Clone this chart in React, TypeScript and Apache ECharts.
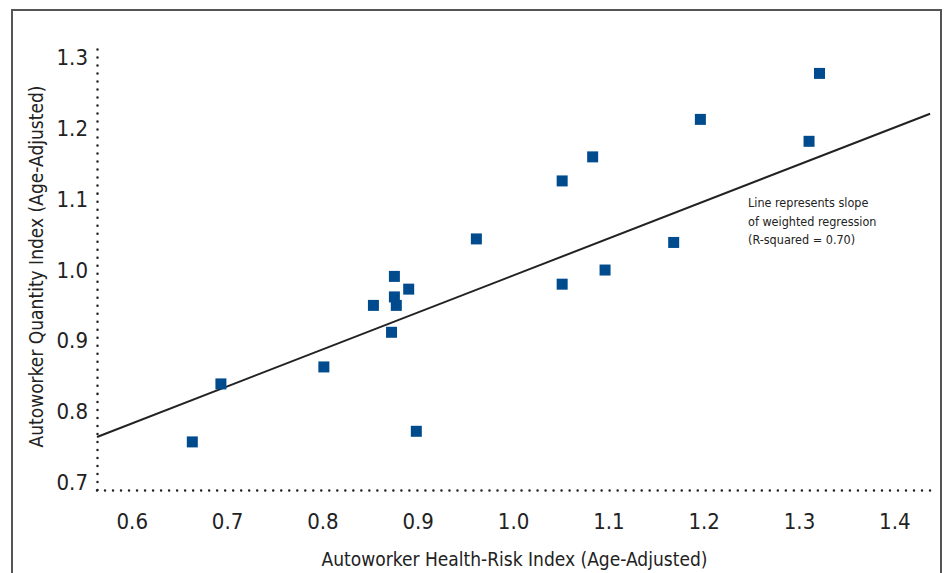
import React, { useEffect, useRef } from "react";
import * as echarts from "echarts";

const healthRisk = [0.663, 0.693, 0.801, 0.853, 0.872, 0.875, 0.875, 0.877, 0.890, 0.898, 0.961, 1.051, 1.051, 1.083, 1.096, 1.168, 1.196, 1.310, 1.321];
const quantity = [0.757, 0.839, 0.863, 0.950, 0.912, 0.962, 0.991, 0.950, 0.973, 0.772, 1.044, 1.126, 0.980, 1.160, 1.000, 1.039, 1.213, 1.182, 1.278];
const xTicks = [0.6, 0.7, 0.8, 0.9, 1.0, 1.1, 1.2, 1.3, 1.4];
const yTicks = [0.7, 0.8, 0.9, 1.0, 1.1, 1.2, 1.3];
const lineX = [0.563, 1.437];
const lineY = [0.764, 1.221];
const noteLines = ["Line represents slope", "of weighted regression", "(R-squared = 0.70)"];

const FONT = '"DejaVu Sans Condensed", "Liberation Sans Narrow", sans-serif';

export default function App() {
  const ref = useRef<HTMLDivElement>(null);
  useEffect(() => {
    if (!ref.current) return;
    const chart = echarts.init(ref.current, null, { renderer: "svg" });
    const dotted = { color: "#222", width: 2.5, type: [0.01, 8] as number[], cap: "round" as const };
    chart.setOption({
      animation: false,
      backgroundColor: "#fff",
      grid: { left: 97, right: 12, top: 43, bottom: 83, containLabel: false },
      xAxis: {
        type: "value",
        min: 0.563,
        max: 1.439,
        name: "Autoworker Health-Risk Index (Age-Adjusted)",
        nameLocation: "middle",
        nameGap: 59,
        nameTextStyle: { fontFamily: FONT, fontSize: 19, color: "#222" },
        axisLine: { show: true, lineStyle: dotted },
        axisTick: { show: false },
        splitLine: { show: false },
        axisLabel: {
          customValues: xTicks,
          formatter: (v: number) => v.toFixed(1),
          fontFamily: FONT,
          fontSize: 22,
          color: "#222",
          margin: 20,
        },
      },
      yAxis: {
        type: "value",
        min: 0.689,
        max: 1.321,
        name: "Autoworker Quantity Index (Age-Adjusted)",
        nameLocation: "middle",
        nameGap: 51,
        nameRotate: 90,
        nameTextStyle: { fontFamily: FONT, fontSize: 19, color: "#222" },
        axisLine: { show: true, lineStyle: dotted },
        axisTick: { show: false },
        splitLine: { show: false },
        axisLabel: {
          customValues: yTicks,
          formatter: (v: number) => v.toFixed(1),
          fontFamily: FONT,
          fontSize: 22,
          color: "#222",
          margin: 9,
        },
      },
      graphic: [
        {
          type: "rect",
          shape: { x: 12, y: 10, width: 929, height: 620 },
          style: { fill: "none", stroke: "#555", lineWidth: 2 },
          silent: true,
        },
        ...noteLines.map((t, i) => ({
          type: "text",
          x: 748,
          y: 196 + i * 18.5,
          style: { text: t, fontFamily: FONT, fontSize: 12.5, fill: "#222" },
        })),
      ],
      series: [
        {
          type: "line",
          data: lineX.map((x, i) => [x, lineY[i]]),
          symbol: "none",
          lineStyle: { color: "#222", width: 2 },
          z: 1,
        },
        {
          type: "scatter",
          data: healthRisk.map((x, i) => [x, quantity[i]]),
          symbol: "rect",
          symbolSize: 11,
          itemStyle: { color: "#004b8d", opacity: 1 },
          z: 2,
        },
      ],
    });
    return () => chart.dispose();
  }, []);
  return <div ref={ref} style={{ position: "fixed", left: 0, top: 0, width: 944, height: 573 }} />;
}
